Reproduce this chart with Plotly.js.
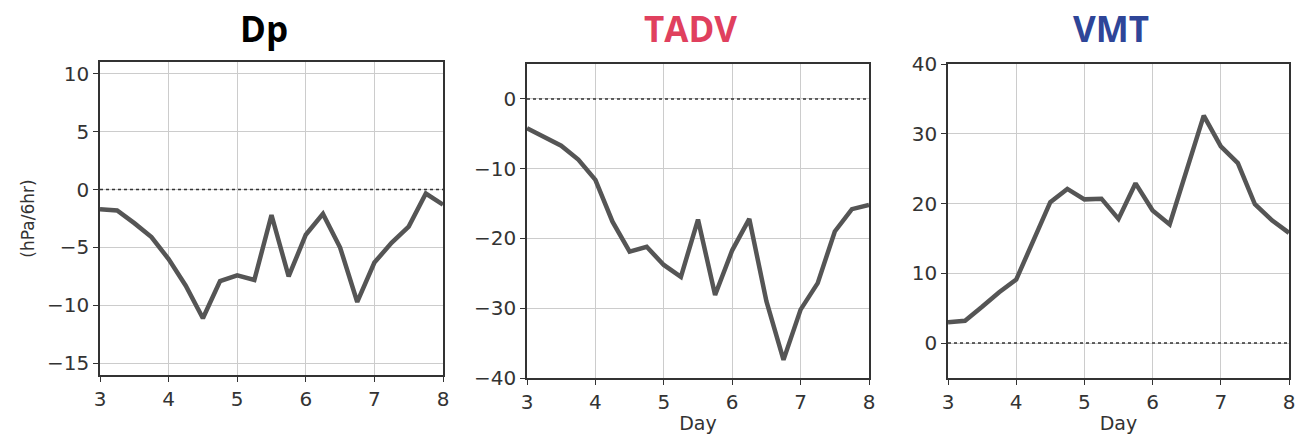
<!DOCTYPE html>
<html>
<head>
<meta charset="utf-8">
<script src="https://cdn.plot.ly/plotly-3.0.1.min.js"></script>
<style>
  html, body { margin: 0; padding: 0; background: #fff; }
  #chart { width: 1297px; height: 435px; }
</style>
</head>
<body>
<div id="chart"></div>
<script>
// Forecast day, every 6 hours
const days = [3, 3.25, 3.5, 3.75, 4, 4.25, 4.5, 4.75, 5, 5.25, 5.5, 5.75,
              6, 6.25, 6.5, 6.75, 7, 7.25, 7.5, 7.75, 8];

// Pressure tendency terms (hPa/6hr)
const dp   = [-1.7, -1.8, -2.9, -4.1, -6.0, -8.3, -11.1, -7.9, -7.4, -7.8, -2.2, -7.5,
              -3.9, -2.1, -5.0, -9.7, -6.3, -4.6, -3.2, -0.35, -1.3];
const tadv = [-4.2, -5.4, -6.7, -8.7, -11.6, -17.6, -21.9, -21.2, -23.8, -25.5, -17.3, -28.1,
              -21.7, -17.2, -29.0, -37.4, -30.2, -26.4, -19.0, -15.8, -15.2];
const vmt  = [3.0, 3.2, 5.2, 7.3, 9.1, 14.7, 20.2, 22.1, 20.6, 20.7, 17.8, 22.9,
              19.0, 17.0, 25.0, 32.6, 28.2, 25.8, 19.9, 17.6, 15.8];

const panelTitles = ['Dp', 'TADV', 'VMT'];
const titleColors = ['#000000', '#e0405e', '#2e4598'];
const yRanges = [[-16, 11], [-40, 5], [-5, 40]];
const yTicks = [[-15, -10, -5, 0, 5, 10], [-40, -30, -20, -10, 0], [0, 10, 20, 30, 40]];
const xTicks = [3, 4, 5, 6, 7, 8];
const yLabel = '(hPa/6hr)';
const xLabel = 'Day';
const zeroLevel = 0;

const W = 1297, H = 435;
const px = v => v / W;
const py = v => 1 - v / H;

const xDomains = [[px(100), px(443)], [px(527), px(869)], [px(948), px(1289)]];
const yDomains = [[py(375), py(62)], [py(378), py(64)], [py(378), py(64)]];

const series = [dp, tadv, vmt];
const traces = series.map((vals, i) => ({
  x: days,
  y: vals,
  type: 'scatter',
  mode: 'lines',
  xaxis: i === 0 ? 'x' : 'x' + (i + 1),
  yaxis: i === 0 ? 'y' : 'y' + (i + 1),
  line: { color: '#555555', width: 4.5 },
  hoverinfo: 'x+y',
  showlegend: false
}));

const tickFont = { family: 'DejaVu Sans, sans-serif', size: 20, color: '#333333' };

const layout = {
  width: W,
  height: H,
  margin: { l: 0, r: 0, t: 0, b: 0 },
  paper_bgcolor: '#ffffff',
  plot_bgcolor: '#ffffff',
  showlegend: false,
  shapes: [],
  annotations: []
};

for (let i = 0; i < 3; i++) {
  const s = i === 0 ? '' : String(i + 1);
  layout['xaxis' + s] = {
    domain: xDomains[i],
    anchor: 'y' + s,
    range: [3, 8],
    tickvals: xTicks,
    ticks: 'outside',
    ticklen: 5,
    tickwidth: 1.2,
    tickcolor: '#333333',
    tickfont: tickFont,
    showgrid: true,
    gridcolor: '#cccccc',
    gridwidth: 1,
    zeroline: false,
    showline: true,
    mirror: true,
    linecolor: '#333333',
    linewidth: 1.5,
    fixedrange: true,
    title: i === 0 ? { text: '' } : {
      text: xLabel,
      font: { family: 'DejaVu Sans, sans-serif', size: 19, color: '#333333' },
      standoff: 4
    }
  };
  layout['yaxis' + s] = {
    domain: yDomains[i],
    anchor: 'x' + s,
    range: yRanges[i],
    tickvals: yTicks[i],
    ticks: 'outside',
    ticklen: 5,
    tickwidth: 1.2,
    tickcolor: '#333333',
    tickfont: tickFont,
    showgrid: true,
    gridcolor: '#cccccc',
    gridwidth: 1,
    zeroline: false,
    showline: true,
    mirror: true,
    linecolor: '#333333',
    linewidth: 1.5,
    fixedrange: true,
    title: i === 0 ? {
      text: yLabel,
      font: { family: 'DejaVu Sans, sans-serif', size: 17, color: '#333333' },
      standoff: 8
    } : { text: '' }
  };

  // dotted zero reference line
  layout.shapes.push({
    type: 'line',
    xref: 'x' + s + ' domain',
    yref: 'y' + s,
    x0: 0, x1: 1,
    y0: zeroLevel, y1: zeroLevel,
    line: { color: '#333333', width: 1.5, dash: 'dot' },
    layer: 'above'
  });

  // panel title
  layout.annotations.push({
    text: '<b>' + panelTitles[i] + '</b>',
    xref: 'paper', yref: 'paper',
    x: (xDomains[i][0] + xDomains[i][1]) / 2 - px(8),
    y: py(28),
    xanchor: 'center', yanchor: 'middle',
    showarrow: false,
    font: { family: 'Open Sans, sans-serif', size: 35, color: titleColors[i] }
  });
}

Plotly.newPlot('chart', traces, layout, { displayModeBar: false });
</script>
</body>
</html>
